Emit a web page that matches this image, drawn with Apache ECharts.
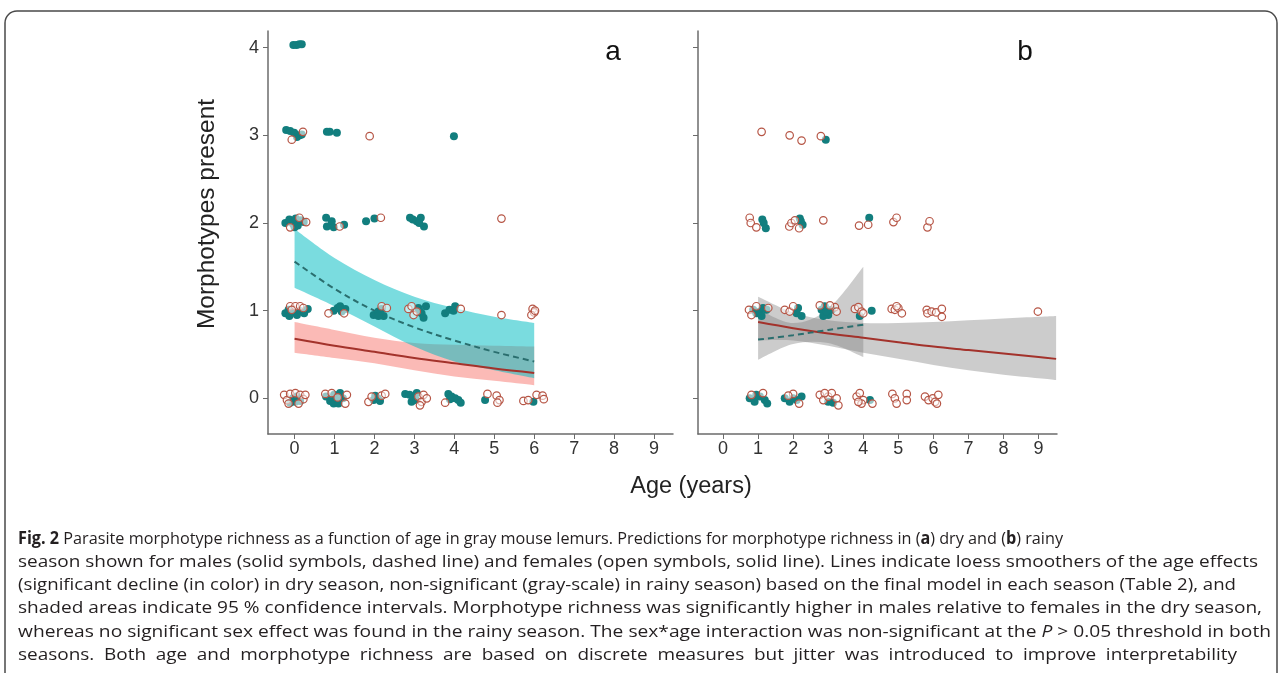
<!DOCTYPE html>
<html>
<head>
<meta charset="utf-8">
<title>Parasite morphotype richness vs age</title>
<script src="https://cdn.jsdelivr.net/npm/echarts@6/dist/echarts.min.js"></script>
<style>
  html, body { margin: 0; padding: 0; background: #fff; }
  #chart { width: 1282px; height: 673px; }
</style>
</head>
<body>
<div id="chart"></div>
<script>
// ==========================================================================
// Data
// ==========================================================================

var ageTicks = [0, 1, 2, 3, 4, 5, 6, 7, 8, 9];
var richnessTicks = [0, 1, 2, 3, 4];

// Panel a - dry season fits (males dashed, females solid) and 95% CI
var ageFitA = [0, 1, 2, 3, 4, 5, 6];
var maleFitA = [1.56, 1.25, 1.00, 0.81, 0.66, 0.53, 0.42];
var maleLoA = [1.26, 1.05, 0.82, 0.59, 0.42, 0.32, 0.23];
var maleHiA = [1.93, 1.60, 1.35, 1.16, 1.03, 0.93, 0.86];
var femaleFitA = [0.68, 0.60, 0.53, 0.46, 0.40, 0.34, 0.29];
var femaleLoA = [0.52, 0.46, 0.40, 0.32, 0.25, 0.20, 0.15];
var femaleHiA = [0.87, 0.78, 0.69, 0.63, 0.61, 0.60, 0.59];

// Panel b - rainy season fits
var ageMaleFitB = [1, 2, 3, 4];
var maleFitB = [0.67, 0.72, 0.78, 0.84];
var maleLoB = [0.44, 0.62, 0.63, 0.47];
var maleHiB = [1.02, 0.86, 1.02, 1.50];
var ageFemaleFitB = [1, 2, 3, 4, 5, 6, 7, 8, 9, 9.5];
var femaleFitB = [0.87, 0.80, 0.74, 0.69, 0.64, 0.59, 0.55, 0.51, 0.47, 0.45];
var femaleLoB = [0.66, 0.66, 0.60, 0.52, 0.45, 0.38, 0.32, 0.27, 0.23, 0.21];
var femaleHiB = [1.16, 0.98, 0.89, 0.86, 0.86, 0.87, 0.89, 0.91, 0.93, 0.94];

// Jittered observations [age, morphotypes]
var malePointsA = [
    [-0.03, 4.03], [0.05, 4.03], [0.12, 4.04], [0.18, 4.04],
    [-0.21, 3.06], [-0.11, 3.05], [-0.01, 3.03], [0.06, 2.98], [0.13, 3.0], [0.18, 3.01],
    [0.81, 3.04], [0.88, 3.04], [1.06, 3.03], [3.99, 2.99],
    [-0.23, 2.0], [-0.13, 2.04], [-0.04, 1.99], [0.03, 2.05], [0.08, 1.97], [0.16, 2.03],
    [0.23, 2.01], [0.0, 1.95], [0.79, 2.06], [0.81, 1.96], [0.93, 2.02], [0.98, 1.95],
    [1.24, 1.98], [1.79, 2.02], [2.0, 2.05], [2.89, 2.06], [2.96, 2.04], [3.06, 2.02],
    [3.16, 2.06], [3.24, 1.96], [3.12, 2.0],
    [-0.23, 0.97], [-0.15, 1.01], [-0.04, 0.98], [0.06, 0.95], [0.14, 1.0], [0.24, 0.97],
    [0.33, 1.02], [-0.13, 0.94], [0.98, 1.0], [1.08, 1.03], [1.18, 0.99], [1.27, 1.02],
    [1.14, 1.05], [1.98, 0.95], [2.1, 0.99], [2.18, 1.02], [2.23, 0.94], [2.1, 0.94],
    [3.1, 1.03], [3.18, 0.97], [3.23, 0.92], [3.29, 1.05], [3.14, 0.99], [3.77, 0.97],
    [3.88, 1.01], [3.98, 1.0], [4.02, 1.05],
    [-0.04, 0.0], [0.02, -0.04], [0.06, 0.02], [-0.11, -0.05], [0.14, -0.03],
    [0.79, 0.02], [0.89, -0.03], [0.99, 0.04], [1.06, -0.02], [1.14, 0.06], [1.21, 0.0],
    [0.98, -0.06], [1.1, -0.06], [1.98, -0.02], [2.08, 0.0], [2.14, -0.03], [2.02, 0.03],
    [2.77, 0.05], [2.88, 0.04], [2.98, 0.0], [2.93, -0.04], [3.06, 0.06], [3.04, -0.02],
    [3.85, 0.05], [3.93, 0.02], [4.02, 0.0], [4.1, -0.02], [4.16, -0.05], [3.89, -0.01],
    [4.77, -0.02], [5.98, -0.04]
];
var femalePointsA = [
    [-0.07, 2.95], [0.21, 3.04], [1.88, 2.99],
    [-0.11, 1.95], [0.12, 2.06], [0.29, 2.01], [1.13, 1.96], [2.16, 2.06], [5.18, 2.05],
    [-0.11, 1.05], [0.02, 1.05], [0.14, 1.05], [-0.07, 1.01], [0.22, 1.03], [0.85, 0.97],
    [1.24, 0.97], [2.18, 1.05], [2.31, 1.03], [2.85, 1.02], [2.93, 1.05], [2.98, 0.95],
    [3.06, 0.99], [4.16, 1.02], [5.18, 0.95], [5.96, 1.02], [6.0, 0.98], [5.93, 0.95],
    [6.02, 1.0],
    [-0.26, 0.04], [-0.19, -0.02], [-0.11, 0.05], [0.02, 0.06], [0.14, 0.04], [0.22, -0.01],
    [0.27, 0.04], [-0.15, -0.06], [0.1, -0.06], [0.77, 0.05], [1.27, -0.06], [1.31, 0.04],
    [0.93, 0.06], [1.08, 0.01], [1.85, -0.04], [2.18, 0.03], [2.27, 0.05], [1.93, 0.02],
    [3.1, 0.02], [3.18, -0.04], [3.23, 0.04], [3.31, 0.0], [3.14, -0.08], [3.77, -0.05],
    [4.83, 0.05], [5.06, 0.03], [5.13, -0.02], [5.08, -0.05], [5.73, -0.03], [5.85, -0.02],
    [6.06, 0.04], [6.21, 0.03], [6.24, -0.01]
];
var malePointsB = [
    [2.93, 2.95],
    [1.12, 2.04], [1.16, 2.0], [1.22, 1.94], [2.19, 2.05], [2.22, 2.02], [2.27, 1.98], [4.17, 2.06],
    [0.86, 1.01], [0.95, 0.97], [1.05, 0.99], [1.14, 1.03], [1.24, 1.01], [1.10, 0.94],
    [2.10, 0.97], [2.24, 0.94], [2.14, 1.03], [2.81, 1.01], [2.90, 1.05], [3.0, 0.95],
    [3.10, 1.01], [2.86, 0.94], [2.95, 0.99], [4.24, 1.0], [3.90, 0.94],
    [0.76, 0.0], [0.90, -0.04], [1.05, 0.02], [1.19, -0.02], [1.26, -0.06], [0.95, 0.04],
    [1.76, 0.0], [1.90, -0.04], [2.10, -0.02], [2.24, 0.02], [2.0, 0.0], [3.0, -0.04],
    [3.14, -0.05], [4.19, -0.02]
];
var femalePointsB = [
    [1.10, 3.04], [1.90, 3.0], [2.24, 2.94], [2.79, 2.99],
    [0.76, 2.06], [0.79, 2.0], [0.95, 1.95], [1.89, 1.96], [1.95, 2.0], [2.05, 2.03],
    [2.17, 1.94], [2.86, 2.03], [3.88, 1.97], [4.14, 1.98], [4.86, 2.01], [4.95, 2.06],
    [5.83, 1.95], [5.89, 2.02],
    [0.74, 1.01], [0.81, 0.95], [0.95, 1.05], [1.29, 1.03], [1.76, 1.01], [1.90, 0.99],
    [2.0, 1.05], [2.76, 1.06], [3.19, 1.04], [3.24, 0.99], [3.05, 1.06], [3.76, 1.02],
    [3.86, 1.04], [3.95, 0.99], [4.0, 0.97], [4.81, 1.02], [4.90, 1.01], [5.0, 1.03],
    [5.10, 0.97], [4.95, 1.05], [5.81, 1.01], [5.83, 0.97], [5.95, 0.99], [6.08, 0.98],
    [6.24, 1.02], [6.24, 0.93], [8.98, 0.99],
    [0.81, 0.04], [1.14, 0.06], [2.0, 0.05], [2.17, -0.06], [1.86, 0.03], [2.76, 0.04],
    [2.86, -0.02], [3.0, 0.02], [3.10, 0.06], [3.24, 0.0], [3.29, -0.08], [2.90, 0.06],
    [3.81, 0.02], [3.90, 0.06], [4.0, -0.02], [3.95, -0.06], [3.86, -0.04], [4.26, -0.06],
    [4.83, 0.05], [4.90, 0.0], [4.95, -0.06], [5.24, 0.05], [5.24, -0.02], [5.76, 0.02],
    [5.86, -0.02], [5.98, 0.0], [6.05, -0.04], [6.14, 0.04], [6.10, -0.06]
];

// Caption, one entry per printed line: [style, text] pieces (n normal, b bold, i italic)
var captionLines = [
    [['b', 'Fig. 2'], ['n', ' Parasite morphotype richness as a function of age in gray mouse lemurs. Predictions for morphotype richness in ('], ['b', 'a'], ['n', ') dry and ('], ['b', 'b'], ['n', ') rainy']],
    [['n', 'season shown for males (solid symbols, dashed line) and females (open symbols, solid line). Lines indicate loess smoothers of the age effects']],
    [['n', '(significant decline (in color) in dry season, non-significant (gray-scale) in rainy season) based on the final model in each season (Table 2), and']],
    [['n', 'shaded areas indicate 95 % confidence intervals. Morphotype richness was significantly higher in males relative to females in the dry season,']],
    [['n', 'whereas no significant sex effect was found in the rainy season. The sex*age interaction was non-significant at the '], ['i', 'P'], ['n', ' > 0.05 threshold in both']],
    [['n', 'seasons. Both age and morphotype richness are based on discrete measures but jitter was introduced to improve interpretability']]
];
var captionLineEnds = [1063, 1258, 1236, 1262, 1271, 1237];

// ==========================================================================
// Styling
// ==========================================================================

var AXIS_FONT = 'Liberation Sans';
var CAPTION_FONT = 'Open Sans';
var CAPTION_SIZE = 17;
var axisGray = '#6b6b6b';
var maleColor = '#127e7e';
var femaleColor = '#b65545';
var maleLineColor = '#2a6e6e';
var femaleLineColor = '#a3322b';

var chart = echarts.init(document.getElementById('chart'));

function makeXAxis(gi, min, max) {
    return {
        gridIndex: gi,
        type: 'value',
        min: min,
        max: max,
        splitLine: { show: false },
        axisLine: { show: true, onZero: false, lineStyle: { color: axisGray, width: 1.5 } },
        axisTick: { show: true, length: 5, customValues: ageTicks, lineStyle: { color: axisGray, width: 1 } },
        axisLabel: { customValues: ageTicks, color: '#333', fontSize: 18, fontFamily: AXIS_FONT, margin: 6 }
    };
}

function makeYAxis(gi, showLabels) {
    return {
        gridIndex: gi,
        type: 'value',
        min: -0.407,
        max: 4.19,
        splitLine: { show: false },
        axisLine: { show: true, onZero: false, lineStyle: { color: axisGray, width: 1.5 } },
        axisTick: { show: true, length: 5, customValues: richnessTicks, lineStyle: { color: axisGray, width: 1 } },
        axisLabel: { show: showLabels, customValues: richnessTicks, color: '#333', fontSize: 18, fontFamily: AXIS_FONT, margin: 9 }
    };
}

// Catmull-Rom spline through pixel points, as path commands after the start point
function splinePath(pts) {
    var d = '';
    for (var i = 0; i < pts.length - 1; i++) {
        var p0 = pts[i - 1] || pts[i], p1 = pts[i], p2 = pts[i + 1], p3 = pts[i + 2] || p2;
        var c1x = p1[0] + (p2[0] - p0[0]) / 6, c1y = p1[1] + (p2[1] - p0[1]) / 6;
        var c2x = p2[0] - (p3[0] - p1[0]) / 6, c2y = p2[1] - (p3[1] - p1[1]) / 6;
        d += ' C' + c1x + ',' + c1y + ' ' + c2x + ',' + c2y + ' ' + p2[0] + ',' + p2[1];
    }
    return d;
}

// Confidence band: closed smooth shape between lower and upper bound
function bandSeries(gi, xs, lo, hi, color) {
    return {
        type: 'custom', xAxisIndex: gi, yAxisIndex: gi, z: 1, clip: true, silent: true,
        data: xs.map((x, i) => [x, lo[i], hi[i]]),
        encode: { x: 0, y: [1, 2] },
        renderItem: function(params, api) {
            if (params.dataIndex !== 0) return;
            var up = xs.map((x, i) => api.coord([x, hi[i]]));
            var dn = xs.map((x, i) => api.coord([x, lo[i]])).reverse();
            var d = 'M' + up[0][0] + ',' + up[0][1] + splinePath(up) +
                ' L' + dn[0][0] + ',' + dn[0][1] + splinePath(dn) + ' Z';
            return { type: 'path', shape: { pathData: d }, style: { fill: color } };
        }
    };
}

function fitSeries(gi, xs, ys, color, dashed) {
    return {
        type: 'line', xAxisIndex: gi, yAxisIndex: gi, z: 3,
        data: xs.map((x, i) => [x, ys[i]]),
        symbol: 'none', smooth: 0.35, silent: true,
        lineStyle: { color: color, width: 2, type: dashed ? [6, 4] : 'solid' }
    };
}

function maleScatter(gi, pts) {
    return {
        type: 'scatter', xAxisIndex: gi, yAxisIndex: gi, z: 4,
        data: pts, symbol: 'circle', symbolSize: 8, silent: true,
        itemStyle: { color: maleColor, opacity: 1 }
    };
}

function femaleScatter(gi, pts) {
    return {
        type: 'scatter', xAxisIndex: gi, yAxisIndex: gi, z: 5,
        data: pts, symbol: 'circle', symbolSize: 7.5, silent: true,
        itemStyle: { color: 'rgba(255,255,255,0.55)', borderColor: femaleColor, borderWidth: 1.2, opacity: 1 }
    };
}

// ==========================================================================
// Caption laid out line by line, each line fitted to its printed width
// ==========================================================================

var measureCtx = document.createElement('canvas').getContext('2d');

function pieceFont(st) {
    return (st === 'i' ? 'italic ' : '') + (st === 'b' ? 'bold ' : '') + CAPTION_SIZE + 'px "' + CAPTION_FONT + '"';
}

function textWidth(st, txt) {
    measureCtx.font = pieceFont(st);
    return measureCtx.measureText(txt).width;
}

function splitWords(line) {
    var words = [[]];
    line.forEach(function(piece) {
        piece[1].split(' ').forEach(function(part, k) {
            if (k > 0) words.push([]);
            if (part) words[words.length - 1].push([piece[0], part]);
        });
    });
    return words.filter(w => w.length);
}

var captionLeft = 18;
var captionTop = 539;
var captionStep = 23.2;
var captionGraphics = [];
var lineScales = [];

captionLines.forEach(function(line, li) {
    var words = splitWords(line);
    var widths = words.map(w => w.reduce((s, p) => s + textWidth(p[0], p[1]), 0));
    var total = widths.reduce((a, b) => a + b, 0);
    var space = textWidth('n', ' ');
    var span = captionLineEnds[li] - captionLeft;
    var scale, gap = space;
    if (li < captionLines.length - 1) {
        scale = span / (total + space * (words.length - 1));
        lineScales.push(scale);
    } else {
        // last line: average glyph width, wider word gaps
        var rest = lineScales.slice(1);
        scale = rest.reduce((a, b) => a + b, 0) / rest.length;
        gap = Math.max(space, (span / scale - total) / (words.length - 1));
    }
    var children = [];
    var x = 0;
    words.forEach(function(w, wi) {
        var px = x;
        w.forEach(function(p) {
            children.push({
                type: 'text', x: px, y: 0, silent: true,
                style: {
                    text: p[1], fill: '#231f20',
                    fontFamily: CAPTION_FONT, fontSize: CAPTION_SIZE,
                    fontWeight: p[0] === 'b' ? 'bold' : 'normal',
                    fontStyle: p[0] === 'i' ? 'italic' : 'normal',
                    align: 'left', verticalAlign: 'middle'
                }
            });
            px += textWidth(p[0], p[1]);
        });
        x += widths[wi] + gap;
    });
    captionGraphics.push({
        type: 'group', x: captionLeft, y: captionTop + li * captionStep,
        scaleX: scale, children: children
    });
});

// ==========================================================================
// Chart
// ==========================================================================

chart.setOption({
    animation: false,
    backgroundColor: '#fff',
    grid: [
        { left: 268, top: 31, width: 405, height: 403 },
        { left: 698, top: 31, width: 359, height: 403 }
    ],
    xAxis: [makeXAxis(0, -0.665, 9.475), makeXAxis(1, -0.714, 9.525)],
    yAxis: [makeYAxis(0, true), makeYAxis(1, false)],
    graphic: [
        {
            type: 'rect', silent: true,
            shape: { x: 5, y: 11, width: 1272, height: 700, r: [12, 12, 0, 0] },
            style: { fill: 'none', stroke: '#4a4a4a', lineWidth: 1.5 }
        },
        {
            type: 'text', x: 207, y: 214, rotation: Math.PI / 2, silent: true,
            style: { text: 'Morphotypes present', fill: '#222', fontFamily: AXIS_FONT, fontSize: 24.5, align: 'center', verticalAlign: 'middle' }
        },
        {
            type: 'text', x: 691, y: 487, silent: true,
            style: { text: 'Age (years)', fill: '#222', fontFamily: AXIS_FONT, fontSize: 23.5, align: 'center', verticalAlign: 'middle' }
        },
        {
            type: 'text', x: 613, y: 52, z: 100, silent: true,
            style: { text: 'a', fill: '#111', fontFamily: AXIS_FONT, fontSize: 28, align: 'center', verticalAlign: 'middle' }
        },
        {
            type: 'text', x: 1025, y: 52, z: 100, silent: true,
            style: { text: 'b', fill: '#111', fontFamily: AXIS_FONT, fontSize: 28, align: 'center', verticalAlign: 'middle' }
        }
    ].concat(captionGraphics),
    series: [
        bandSeries(0, ageFitA, femaleLoA, femaleHiA, 'rgba(248,118,109,0.5)'),
        bandSeries(0, ageFitA, maleLoA, maleHiA, 'rgba(0,188,194,0.52)'),
        bandSeries(1, ageFemaleFitB, femaleLoB, femaleHiB, 'rgba(128,128,128,0.4)'),
        bandSeries(1, ageMaleFitB, maleLoB, maleHiB, 'rgba(128,128,128,0.4)'),
        fitSeries(0, ageFitA, femaleFitA, femaleLineColor, false),
        fitSeries(0, ageFitA, maleFitA, maleLineColor, true),
        fitSeries(1, ageFemaleFitB, femaleFitB, femaleLineColor, false),
        fitSeries(1, ageMaleFitB, maleFitB, maleLineColor, true),
        maleScatter(0, malePointsA),
        femaleScatter(0, femalePointsA),
        maleScatter(1, malePointsB),
        femaleScatter(1, femalePointsB)
    ]
});
</script>
</body>
</html>
